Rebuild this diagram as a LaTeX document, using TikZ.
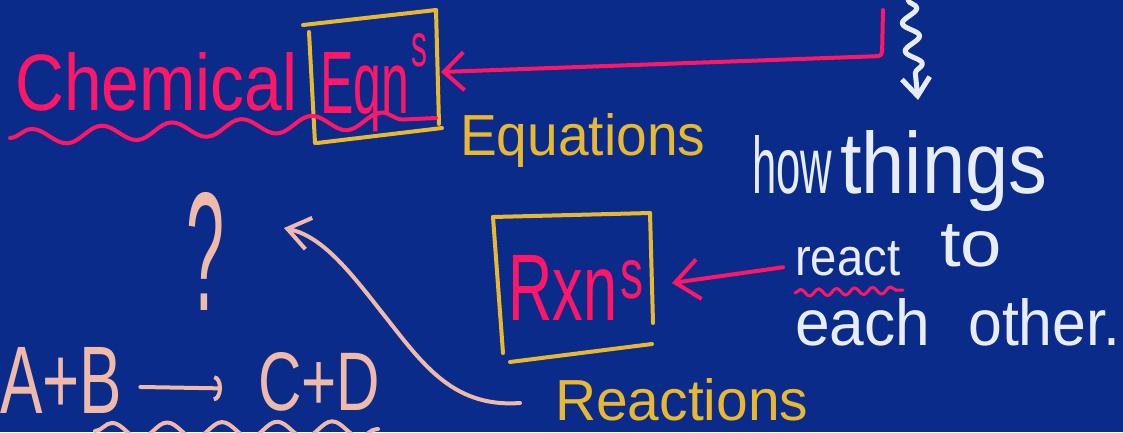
\documentclass[tikz,border=0pt]{standalone}
\usepackage{fontspec}
\setmainfont{Liberation Sans}
\usepackage{graphicx}
\usetikzlibrary{arrows.meta,decorations.pathmorphing,calc}
\definecolor{bg}{RGB}{11,43,138}
\definecolor{hpink}{RGB}{255,22,102}
\definecolor{hgold}{RGB}{232,184,48}
\definecolor{hwhite}{RGB}{232,236,245}
\definecolor{hpeach}{RGB}{240,186,170}
\newcommand{\fitt}[3]{\resizebox{#1pt}{#2pt}{#3}}
\begin{document}
\begin{tikzpicture}[x=1pt,y=-1pt,
  txt/.style={inner sep=0pt,anchor=base west},
  stroke/.style={line width=4pt,line cap=round,line join=round},
  pinkline/.style={stroke,draw=hpink},
  goldline/.style={stroke,draw=hgold},
  whiteline/.style={stroke,draw=hwhite},
  peachline/.style={stroke,draw=hpeach}]
\fill[bg] (0,0) rectangle (1123,432);
\useasboundingbox (0,0) rectangle (1123,432);
% texts
\node[txt,text=hpink] (chem) at (15,110) {\fitt{282}{58}{Chemical}};
\node[txt,text=hpink] (eqn) at (320,113) {\fitt{89}{61}{Eqn}};
\node[txt,text=hpink] (eqns) at (411,66) {\fitt{16}{33}{s}};
\node[txt,text=hgold] (equations) at (460,155) {\fitt{245}{42}{Equations}};
\node[txt,text=hwhite] (how) at (752,193) {\fitt{80}{58}{how}};
\node[txt,text=hwhite] (things) at (840,193) {\fitt{207}{63}{things}};
\node[txt,text=hwhite] (react) at (795,275) {\fitt{105}{34}{react}};
\node[txt,text=hwhite] (to) at (940,266) {\fitt{62}{42}{to}};
\node[txt,text=hwhite] (each) at (795,345) {\fitt{135}{47}{each}};
\node[txt,text=hwhite] (other) at (968,345) {\fitt{152}{47}{other.}};
\node[txt,text=hpink] (rxn) at (508,320) {\fitt{109}{65}{Rxn}};
\node[txt,text=hpink] (rxns) at (620,298) {\fitt{23}{38}{s}};
\node[txt,text=hgold] (reactions) at (555,420) {\fitt{253}{42}{Reactions}};
\node[txt,text=hpeach] (q) at (186,310) {\fitt{38}{118}{?}};
\node[txt,text=hpeach] (ab) at (0,413) {\fitt{122}{66}{A+B}};
\node[txt,text=hpeach] (cd) at (258,410) {\fitt{122}{58}{C+D}};
% gold box round Eqn
\coordinate (e1) at (303,25); \coordinate (e2) at (436,10);
\coordinate (e3) at (309,32); \coordinate (e4) at (315,143);
\coordinate (e5) at (439,124); \coordinate (e6) at (317,143);
\coordinate (e7) at (442,128);
\draw[goldline] (e1) -- (e2);
\draw[goldline] (e3) -- (e4);
\draw[goldline] (e2) -- (e5);
\draw[goldline] (e6) -- (e7);
% gold box round Rxn
\coordinate (r1) at (493,217); \coordinate (r2) at (650,213);
\coordinate (r3) at (503,353); \coordinate (r4) at (653,323);
\coordinate (r5) at (510,362); \coordinate (r6) at (652,344);
\draw[goldline] (r1) -- (r2);
\draw[goldline] (r1) -- (r3);
\draw[goldline] (r2) -- (r4);
\draw[goldline] (r5) -- (r6);
% pink wave under Chemical Eqn
\coordinate (w1) at (10,138); \coordinate (w2) at (436,118);
\draw[pinkline,decorate,decoration={snake,segment length=70pt,amplitude=8pt}] (w1) -- (w2);
% pink arrow into Eqn box
\coordinate (pinktop) at (883,10);
\coordinate (pinkbend) at (882,56);
\coordinate (eqtip) at (441,72);
\draw[pinkline,rounded corners=4pt,-{Straight Barb[length=20pt 0,width=38pt 0]}] (pinktop) -- (pinkbend) -- (eqtip);
% white wavy arrow
\coordinate (wtop) at (908,0);
\coordinate (wbot) at (918,100);
\draw[whiteline,line width=5pt,decorate,decoration={snake,segment length=28pt,amplitude=8pt,post length=14pt},-{Straight Barb[length=18pt 0,width=28pt 0]}] (wtop) -- (wbot);
% pink arrow from react to Rxn box
\coordinate (reacttail) at ($(react.west)+(-12,9)$);
\coordinate (rxntip) at (672,283);
\draw[pinkline,-{Straight Barb[length=24pt 0,width=40pt 0]}] (reacttail) -- (rxntip);
% pink wave under react
\coordinate (u1) at (795,293); \coordinate (u2) at (903,290);
\draw[pinkline,line width=3pt,decorate,decoration={snake,segment length=18pt,amplitude=3.5pt}] (u1) -- (u2);
% A+B -> C+D arrow
\draw[peachline,-{Arc Barb[length=8pt 0,width=26pt 0]}] ($(ab.east)+(18,7)$) -- ($(cd.west)+(-36,7)$);
% peach wave under C+D
\coordinate (p1) at (95,431); \coordinate (p2) at (378,429);
\draw[peachline,decorate,decoration={snake,segment length=55pt,amplitude=8pt}] (p1) -- (p2);
% peach curve to ?
\coordinate (ptail) at (520,403);
\coordinate (qtip) at (284,228);
\draw[peachline,-{Straight Barb[length=22pt 0,width=32pt 0]}] (ptail) .. controls (450,408) and (420,360) .. (380,310) .. controls (345,265) and (320,236) .. (qtip);
\end{tikzpicture}
\end{document}
